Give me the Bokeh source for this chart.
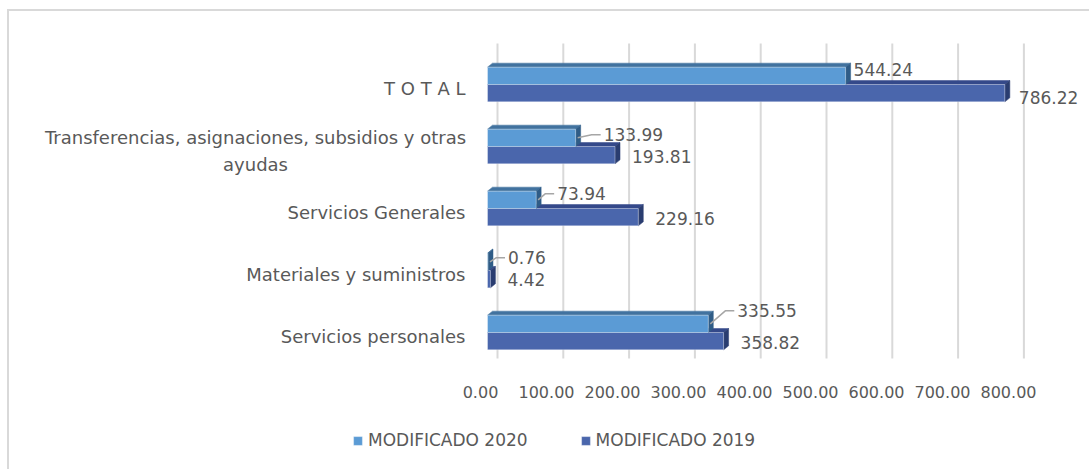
from bokeh.plotting import figure
from bokeh.models import (ColumnDataSource, Range1d, Legend, LegendItem, LabelSet)
from bokeh.core.properties import value
from bokeh.embed import file_html
from bokeh.resources import INLINE

# ---------------- data ----------------
categories = ["Servicios personales", "Materiales y suministros", "Servicios Generales",
              "Transferencias, asignaciones, subsidios y otras\nayudas", "T O T A L"]
mod_2020 = [335.55, 0.76, 73.94, 133.99, 544.24]
mod_2019 = [358.82, 4.42, 229.16, 193.81, 786.22]
x_ticks = [0, 100, 200, 300, 400, 500, 600, 700, 800]
series_names = ["MODIFICADO 2020", "MODIFICADO 2019"]

# ---------------- styles / layout ----------------
FONT = "DejaVu Sans"
TXT = "#595959"
C20_FRONT, C20_TOP, C20_SIDE = "#5B9BD5", "#41729F", "#2F5C87"
C19_FRONT, C19_TOP, C19_SIDE = "#4A66AC", "#34498A", "#2A3D70"

W, H = 1082, 460            # canvas (frame covers all of it)
X0 = 478                    # canvas x of value 0 (bar fronts)
PXU = 0.658                 # px per value unit, bars
LAB_X0, LAB_PXU = 471, 0.66  # tick-label row (front floor edge)
Y0 = 321                    # canvas y of first category centre
PXY = 62.0                  # px per category
XMIN = -X0 / PXU
XMAX = XMIN + W / PXU
YMIN = -(H - Y0) / PXY
YMAX = Y0 / PXY
G_TOP, G_BOT = 4.66, -0.42  # extent of the back-wall gridlines (category units)

BAR_H = 0.28
DX = 5 / PXU    # 3D depth, x
DY = 4 / PXY    # 3D depth, y
LABEL_SHIFT = 0.07
CAT_RIGHT = -22 / PXU       # right edge of category labels
WRAP_CENTER = -232 / PXU    # centre of the wrapped category label
TICK_Y = G_BOT - 33 / PXY   # tick-label row

# label offsets in pixels
off20_x = [29, 20, 21, 28, 8]
off20_y = [13, 4, 6, 3, 6]
off19_x = [17, 17, 17, 17, 14]
off19_y = [-1, 0, -1, -1, -4]
leader20 = [True, True, True, True, False]

p = figure(width=W, height=H, x_range=Range1d(XMIN, XMAX), y_range=Range1d(YMIN, YMAX),
           output_backend="svg", toolbar_location=None, x_axis_location=None,
           y_axis_location=None, min_border=0,
           styles={"margin-left": "7px", "margin-top": "9px",
                   "border-left": "2px solid #d9d9d9",
                   "border-top": "2px solid #d9d9d9"})
p.outline_line_color = None
p.xgrid.visible = False
p.ygrid.visible = False
p.extra_x_ranges = {"lab": Range1d(-LAB_X0 / LAB_PXU, (W - LAB_X0) / LAB_PXU)}

# gridlines (back wall, shifted by the 3D depth)
gx = [t + 10 / PXU for t in x_ticks]
p.segment(x0=gx, x1=gx, y0=[G_BOT] * len(gx), y1=[G_TOP] * len(gx),
          line_color="#d9d9d9", line_width=2)

idx = list(range(len(categories)))


def faces(vals, bottoms):
    tops_x, tops_y, side_x, side_y = [], [], [], []
    for v, b in zip(vals, bottoms):
        t = b + BAR_H
        tops_x.append([0, v, v + DX, DX])
        tops_y.append([t, t, t + DY, t + DY])
        side_x.append([v, v, v + DX, v + DX])
        side_y.append([b, t, t + DY, b + DY])
    return tops_x, tops_y, side_x, side_y


def draw_series(vals, yc, front, top, side):
    bottoms = [y - BAR_H / 2 for y in yc]
    tx, ty, sx, sy = faces(vals, bottoms)
    p.patches(tx, ty, fill_color=top, line_color=top, line_width=0.5)
    p.patches(sx, sy, fill_color=side, line_color=side, line_width=0.5)
    return p.hbar(y=yc, left=0, right=vals, height=BAR_H, fill_color=front,
                  line_color="#ffffff", line_alpha=0.35, line_width=1)


y19 = [i - BAR_H / 2 for i in idx]
y20 = [i + BAR_H / 2 for i in idx]
r19 = draw_series(mod_2019, y19, C19_FRONT, C19_TOP, C19_SIDE)
r20 = draw_series(mod_2020, y20, C20_FRONT, C20_TOP, C20_SIDE)

# leader lines for 2020 labels
lx, ly = [], []
for v, y, ox, oy, show in zip(mod_2020, y20, off20_x, off20_y, leader20):
    if show:
        lx.append([v + 2 / PXU, v + (ox - 12) / PXU, v + (ox - 3) / PXU])
        ly.append([y, y + oy / PXY, y + oy / PXY])
p.multi_line(lx, ly, line_color="#a6a6a6", line_width=1.5)

# data labels
src20 = ColumnDataSource(dict(
    x=[v + ox / PXU for v, ox in zip(mod_2020, off20_x)],
    y=[y + oy / PXY for y, oy in zip(y20, off20_y)],
    t=[f"{v:.2f}" for v in mod_2020]))
src19 = ColumnDataSource(dict(
    x=[v + ox / PXU for v, ox in zip(mod_2019, off19_x)],
    y=[y + oy / PXY for y, oy in zip(y19, off19_y)],
    t=[f"{v:.2f}" for v in mod_2019]))
for s in (src20, src19):
    p.add_layout(LabelSet(x="x", y="y", text="t", source=s, text_font=value(FONT),
                          text_font_size=value("17px"), text_color=TXT,
                          text_align="left", text_baseline="middle"))

# category labels
single = [i for i in idx if "\n" not in categories[i]]
wrapped = [i for i in idx if "\n" in categories[i]]
p.text(x=[CAT_RIGHT] * len(single), y=[i - LABEL_SHIFT for i in single],
       text=[categories[i] for i in single], text_font=value(FONT),
       text_font_size=value("18px"), text_color=TXT,
       text_align="right", text_baseline="middle")
p.text(x=[WRAP_CENTER] * len(wrapped), y=[i - LABEL_SHIFT for i in wrapped],
       text=[categories[i] for i in wrapped], text_font=value(FONT),
       text_font_size=value("18px"), text_color=TXT, text_line_height=1.3,
       text_align="center", text_baseline="middle")

# value axis tick labels (front floor edge)
p.text(x=x_ticks, y=[TICK_Y] * len(x_ticks), text=[f"{t:.2f}" for t in x_ticks],
       x_range_name="lab", text_font=value(FONT), text_font_size=value("16px"),
       text_color=TXT, text_align="center", text_baseline="middle")

# legend
legend = Legend(items=[LegendItem(label=series_names[0], renderers=[r20]),
                       LegendItem(label=series_names[1], renderers=[r19])],
                orientation="horizontal", location=(343, 21),
                glyph_width=11, glyph_height=11, label_standoff=5, spacing=52,
                padding=0, margin=0, border_line_color=None, background_fill_alpha=0,
                label_text_font=FONT, label_text_font_size="17px",
                label_text_color=TXT)
p.add_layout(legend, "center")

open("out.html", "w").write(file_html(p, INLINE))
